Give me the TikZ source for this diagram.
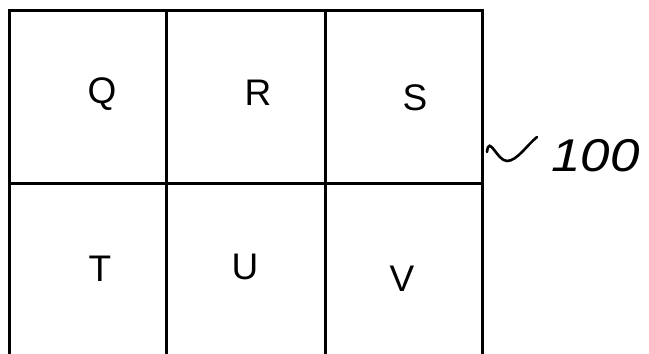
\documentclass[tikz,border=0pt]{standalone}
\usepackage{fontspec}
\setmainfont{Liberation Sans}
\usetikzlibrary{positioning}
\tikzset{
    grid line/.style={line width=3pt, line cap=rect},
    cell label/.style={font=\fontsize{37}{37}\selectfont, inner sep=0pt},
    ref mark/.style={font=\fontsize{46}{46}\selectfont\itshape, inner sep=0pt, anchor=west, xscale=1.15}
}

\begin{document}
\begin{tikzpicture}[x=1pt, y=-1pt]
    \useasboundingbox (0,0) rectangle (649,354);

    % Ecken des Rasters
    \coordinate (tl) at (9,10);
    \coordinate (tr) at (482,10);
    \coordinate (bl) at (9,354);
    \coordinate (br) at (482,354);
    \coordinate (m1) at (166,10);
    \coordinate (m1b) at (166,354);
    \coordinate (m2) at (325,10);
    \coordinate (m2b) at (325,354);
    \coordinate (hl) at (9,183);
    \coordinate (hr) at (482,183);

    % Linien
    \draw[grid line] (bl) -- (tl) -- (tr) -- (br);
    \draw[grid line] (m1) -- (m1b);
    \draw[grid line] (m2) -- (m2b);
    \draw[grid line] (hl) -- (hr);

    % Felder
    \node[cell label] (q) at (102,94) {Q};
    \node[cell label] (r) at (258,93) {R};
    \node[cell label] (s) at (415,98) {S};
    \node[cell label] (t) at (100,269) {T};
    \node[cell label] (u) at (245,267) {U};
    \node[cell label] (v) at (402,279) {V};

    % Bezugszeichen
    \coordinate (lead a) at (487,152);
    \coordinate (lead b) at (537,137);
    \draw[line width=2.6pt, line cap=round]
        (lead a) .. controls (489,134) and (497,161) .. (507,161)
        .. controls (517,161) and (527,145) .. (lead b);
    \node[ref mark] (num) at (551,156) {100};
\end{tikzpicture}
\end{document}
